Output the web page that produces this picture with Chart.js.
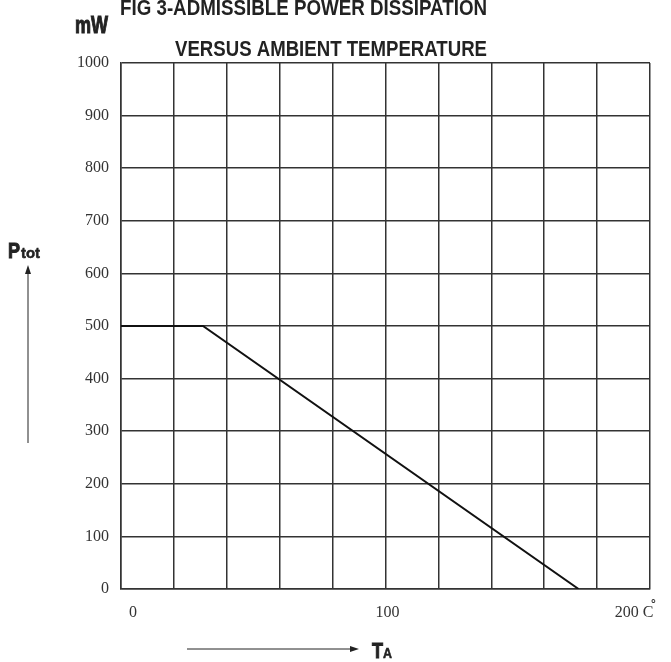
<!DOCTYPE html>
<html>
<head>
<meta charset="utf-8">
<script src="https://cdn.jsdelivr.net/npm/chart.js@4.4.1/dist/chart.umd.min.js"></script>
<style>
  html, body { margin: 0; padding: 0; background: #fff; }
  #wrap { width: 671px; height: 662px; position: relative; }
</style>
</head>
<body>
<div id="wrap"><canvas id="myChart" width="671" height="662"></canvas></div>
<script>
// derating curve
var ambientTemp = [0, 31, 173];      // °C
var powerMw = [500, 500, 0];         // mW
var yTicks = [0, 100, 200, 300, 400, 500, 600, 700, 800, 900, 1000];
var xTickValues = [0, 100, 200];
var xTickTexts = ['0', '100', '200 C'];
var xTickShift = [12, 2, -16];

var decor = {
    id: 'decor',
    afterDraw: function(chart) {
        var c = chart.ctx;
        var xs = chart.scales.x;
        var bottom = chart.chartArea.bottom;
        c.save();
        c.fillStyle = '#222';
        c.strokeStyle = '#222';

        // titles
        c.font = 'bold 22px "Liberation Sans", Arial, sans-serif';
        c.textAlign = 'right';
        c.textBaseline = 'alphabetic';
        c.fillText('FIG 3-ADMISSIBLE POWER DISSIPATION', 487, 15, 367);
        c.fillText('VERSUS AMBIENT TEMPERATURE', 487, 56, 312);

        // unit
        c.font = 'bold 23px "Liberation Sans", sans-serif';
        c.textAlign = 'left';
        c.lineWidth = 1;
        c.fillText('mW', 75, 33, 33);
        c.strokeText('mW', 75, 33, 33);

        // P tot + arrow
        c.font = 'bold 22px "Liberation Sans", sans-serif';
        c.fillText('P', 8, 258, 12);
        c.strokeText('P', 8, 258, 12);
        c.font = 'bold 15px "Liberation Sans", sans-serif';
        c.lineWidth = 0.5;
        c.fillText('tot', 21, 258, 19);
        c.strokeText('tot', 21, 258, 19);
        c.lineWidth = 1;
        c.beginPath(); c.moveTo(28, 443); c.lineTo(28, 272); c.stroke();
        c.beginPath(); c.moveTo(28, 265); c.lineTo(25, 274); c.lineTo(31, 274); c.closePath(); c.fill();

        // T A + arrow
        c.beginPath(); c.moveTo(187, 649); c.lineTo(352, 649); c.stroke();
        c.beginPath(); c.moveTo(359, 649); c.lineTo(350, 646); c.lineTo(350, 652); c.closePath(); c.fill();
        c.font = 'bold 22px "Liberation Sans", sans-serif';
        c.fillText('T', 372, 658, 11);
        c.strokeText('T', 372, 658, 11);
        c.font = 'bold 14px "Liberation Sans", sans-serif';
        c.lineWidth = 0.5;
        c.fillText('A', 383, 658, 9);
        c.strokeText('A', 383, 658, 9);

        // x tick labels
        c.font = '16px "Liberation Serif", "DejaVu Serif", serif';
        c.fillStyle = '#333';
        c.textAlign = 'center';
        c.textBaseline = 'middle';
        for (var i = 0; i < xTickValues.length; i++) {
            var px = xs.getPixelForValue(xTickValues[i]) + xTickShift[i];
            c.fillText(xTickTexts[i], px, bottom + 24);
        }
        // degree mark after the C
        c.font = 'bold 12px "Liberation Sans", sans-serif';
        c.textAlign = 'left';
        c.fillText('°', xs.getPixelForValue(200) + 1, bottom + 16);
        c.restore();
    }
};

var ctx = document.getElementById('myChart');
var myChart = new Chart(ctx, {
    type: 'line',
    data: {
        datasets: [{
            data: ambientTemp.map(function(t, i) { return { x: t, y: powerMw[i] }; }),
            borderColor: '#111',
            borderWidth: 2,
            pointRadius: 0,
            fill: false,
            tension: 0
        }]
    },
    options: {
        responsive: false,
        animation: false,
        layout: { padding: { left: 0, top: 63, right: 21, bottom: 73 } },
        plugins: { legend: { display: false }, tooltip: { enabled: false } },
        scales: {
            x: {
                type: 'linear',
                min: 0, max: 200,
                afterFit: function(s) { s.height = 0; },
                afterBuildTicks: function(s) {
                    var t = [];
                    for (var v = 0; v <= 200; v += 20) t.push({ value: v });
                    s.ticks = t;
                },
                ticks: { display: false },
                grid: { color: '#333', lineWidth: 1.5, drawTicks: false },
                border: { color: '#333', width: 1.5 }
            },
            y: {
                min: 0, max: 1000,
                afterFit: function(s) { s.width = 121; },
                afterBuildTicks: function(s) {
                    s.ticks = yTicks.map(function(v) { return { value: v }; });
                },
                ticks: {
                    padding: 12,
                    color: '#333',
                    font: { family: '"Liberation Serif", "DejaVu Serif", serif', size: 16 },
                    callback: function(v) { return String(v); }
                },
                grid: { color: '#333', lineWidth: 1.5, drawTicks: false },
                border: { color: '#333', width: 1.5 }
            }
        }
    },
    plugins: [decor]
});
</script>
</body>
</html>
